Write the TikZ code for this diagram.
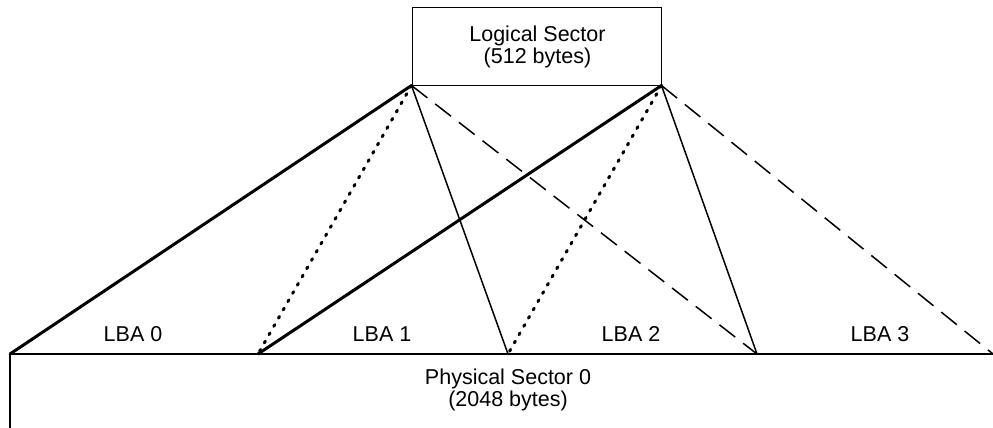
\documentclass[tikz,border=0pt]{standalone}
\usepackage{fontspec}
\setmainfont{Liberation Sans}
\begin{document}
\begin{tikzpicture}[x=1pt,y=-1pt,
  lbl/.style={font=\fontsize{21.5}{21.5}\selectfont, align=center, inner sep=0pt},
  thickln/.style={line width=3pt, line cap=round},
  thinln/.style={line width=1.5pt},
  dotln/.style={line width=3pt, dash pattern=on 2pt off 7.5pt, line cap=round},
  dashln/.style={line width=1.5pt, dash pattern=on 20pt off 10pt},
  base/.style={line width=1.3pt}]
\useasboundingbox (0,0) rectangle (993,428);
\node[draw, line width=1pt, minimum width=249pt, minimum height=77pt, inner sep=0pt] (ls) at (536.5,46.5) {};
\node[lbl] (lt) at (537.5,47) {Logical Sector\\(512 bytes)};
\coordinate (p0) at (10,354);
\coordinate (p1) at (258,354);
\coordinate (p2) at (508,354);
\coordinate (p3) at (757,354);
\coordinate (p4) at (993,354);
\coordinate (pb) at (10,428);
\draw[base] (pb) -- (p0) -- (p4);
\node[lbl, anchor=base] (l0) at (133,341) {LBA 0};
\node[lbl, anchor=base] (l1) at (382,341) {LBA 1};
\node[lbl, anchor=base] (l2) at (631,341) {LBA 2};
\node[lbl, anchor=base] (l3) at (880,341) {LBA 3};
\node[lbl] (ps) at (508,390) {Physical Sector 0\\(2048 bytes)};
\draw[thickln] (ls.south west) -- (p0);
\draw[dotln] (ls.south west) -- (p1);
\draw[thinln] (ls.south west) -- (p2);
\draw[dashln] (ls.south west) -- (p3);
\draw[thickln] (ls.south east) -- (p1);
\draw[dotln] (ls.south east) -- (p2);
\draw[thinln] (ls.south east) -- (p3);
\draw[dashln] (ls.south east) -- (p4);
\end{tikzpicture}
\end{document}
